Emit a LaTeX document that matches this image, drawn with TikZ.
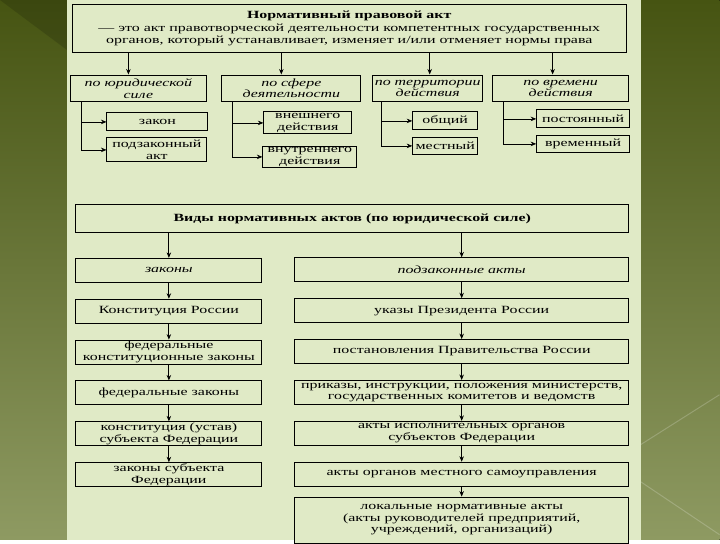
\documentclass[tikz,border=0pt]{standalone}
\usepackage{fontspec}
\setmainfont{Liberation Serif}[FakeStretch=1.45]
\usepackage{xcolor}
\usetikzlibrary{arrows.meta,positioning}

\definecolor{panel}{RGB}{224,234,198}
\definecolor{olivetop}{RGB}{70,84,18}
\definecolor{olivebot}{RGB}{142,154,98}

\begin{document}
\begin{tikzpicture}[
  % --- global style ---
  x=1pt, y=-1pt,
  >={Stealth[length=5.5pt,width=4.5pt]},
  node distance=16pt,
  every node/.style={font=\fontsize{11}{11.5}\selectfont},
  box/.style={
    draw, line width=0.9pt, align=center, inner sep=1pt, fill=panel
  },
  catbox/.style={
    box, minimum height=27pt, font=\fontsize{11}{11.5}\selectfont\itshape
  },
  subbox/.style={
    box, minimum height=18pt, inner sep=0.5pt
  },
  colL/.style={box, minimum width=186pt, minimum height=24pt},
  colR/.style={box, minimum width=334pt, minimum height=24pt},
  arr/.style={->, line width=0.8pt},
  branch/.style={->, line width=0.6pt},
]

% ====== Background ======
\fill[top color=olivetop, bottom color=olivebot] (0,0) rectangle (720,540);
\fill[black, opacity=0.15] (0,0) -- (67,0) -- (67,50) -- cycle;
\draw[white, opacity=0.2, line width=1pt] (641,445) -- (720,395);
\draw[white, opacity=0.2, line width=1pt] (641,482) -- (720,535);
\fill[panel] (67,0) rectangle (641,540);

% ====== Definition ======
\node[box, minimum width=555pt, minimum height=48pt] (nra) at (349.5,28.5)
  {\textbf{Нормативный правовой акт}\\[1.5pt]
   — это акт правотворческой деятельности компетентных государственных\\
   органов, который устанавливает, изменяет и/или отменяет нормы права};

% --- four criteria ---
\node[catbox, minimum width=137pt] (jur) at (138.5,88.5) {по юридической\\силе};
\node[catbox, minimum width=139pt] (sph) at (291.5,88.5) {по сфере\\деятельности};
\node[catbox, minimum width=110pt] (ter) at (428,88.5) {по территории\\действия};
\node[catbox, minimum width=136pt] (tim) at (561,88.5) {по времени\\действия};

% --- kinds ---
\node[subbox, minimum width=101pt] (zak) at (157.5,122) {закон};
\node[subbox, minimum width=100pt, minimum height=24pt] (pzak) at (157,150) {подзаконный\\акт};

\node[subbox, minimum width=88pt, minimum height=22pt] (vnesh) at (308,123) {внешнего\\действия};
\node[subbox, minimum width=94pt, minimum height=21pt] (vnutr) at (310,157) {внутреннего\\действия};

\node[subbox, minimum width=65pt] (obsh) at (445.5,121) {общий};
\node[subbox, minimum width=65pt, minimum height=17pt] (mest) at (445.5,146) {местный};

\node[subbox, minimum width=93pt] (postn) at (583.5,119) {постоянный};
\node[subbox, minimum width=93pt, minimum height=17pt] (vrem) at (583.5,144) {временный};

% ====== Arrows: definition -> criteria ======
\draw[arr] ([xshift=-10pt]jur.north |- nra.south) -- ([xshift=-10pt]jur.north);
\draw[arr] ([xshift=-10pt]sph.north |- nra.south) -- ([xshift=-10pt]sph.north);
\draw[arr] ([xshift=2pt]ter.north |- nra.south) -- ([xshift=2pt]ter.north);
\draw[arr] ([xshift=-8pt]tim.north |- nra.south) -- ([xshift=-8pt]tim.north);

% criteria -> kinds
\draw[branch] ([xshift=12pt]jur.south west) |- (zak.west);
\draw[branch] ([xshift=12pt]jur.south west) |- (pzak.west);
\draw[branch] ([xshift=11pt]sph.south west) |- (vnesh.west);
\draw[branch] ([xshift=11pt]sph.south west) |- (vnutr.west);
\draw[branch] ([xshift=9pt]ter.south west) |- (obsh.west);
\draw[branch] ([xshift=9pt]ter.south west) |- (mest.west);
\draw[branch] ([xshift=11pt]tim.south west) |- (postn.west);
\draw[branch] ([xshift=11pt]tim.south west) |- (vrem.west);

% ====== Kinds by legal force ======
\node[box, minimum width=553pt, minimum height=28pt,
      font=\fontsize{11}{11.5}\selectfont\bfseries] (vid) at (352.5,219)
  {Виды нормативных актов (по юридической силе)};

\node[colL, font=\fontsize{11}{11.5}\selectfont\itshape] (zakony) at (169,270.5) {законы};
\node[colR, font=\fontsize{11}{11.5}\selectfont\itshape] (pzakty) at (462,270) {подзаконные акты};

% --- left column: laws ---
\node[colL, below=of zakony] (konst) {Конституция России};
\node[colL, below=of konst]  (fkz)   {федеральные\\конституционные законы};
\node[colL, below=of fkz]    (fz)    {федеральные законы};
\node[colL, below=of fz]     (ksub)  {конституция (устав)\\субъекта Федерации};
\node[colL, below=of ksub]   (zsub)  {законы субъекта\\Федерации};

% --- right column: by-laws ---
\node[colR, below=of pzakty] (ukaz)  {указы Президента России};
\node[colR, below=of ukaz]   (postp) {постановления Правительства России};
\node[colR, below=of postp]  (prik)
  {приказы, инструкции, положения министерств,\\государственных комитетов и ведомств};
\node[colR, below=of prik]   (aisp)  {акты исполнительных органов\\субъектов Федерации};
\node[colR, below=of aisp]   (amest) {акты органов местного самоуправления};
\node[colR, below=10pt of amest, minimum height=46pt] (lok)
  {локальные нормативные акты\\(акты руководителей предприятий,\\учреждений, организаций)};

% ====== Arrows: lower part ======
\draw[arr] (vid.south -| zakony) -- (zakony);
\draw[arr] (vid.south -| pzakty) -- (pzakty);

\draw[arr] (zakony) -- (konst);
\draw[arr] (konst) -- (fkz);
\draw[arr] (fkz) -- (fz);
\draw[arr] (fz) -- (ksub);
\draw[arr] (ksub) -- (zsub);

\draw[arr] (pzakty) -- (ukaz);
\draw[arr] (ukaz) -- (postp);
\draw[arr] (postp) -- (prik);
\draw[arr] (prik) -- (aisp);
\draw[arr] (aisp) -- (amest);
\draw[arr] (amest) -- (lok);

\end{tikzpicture}
\end{document}
